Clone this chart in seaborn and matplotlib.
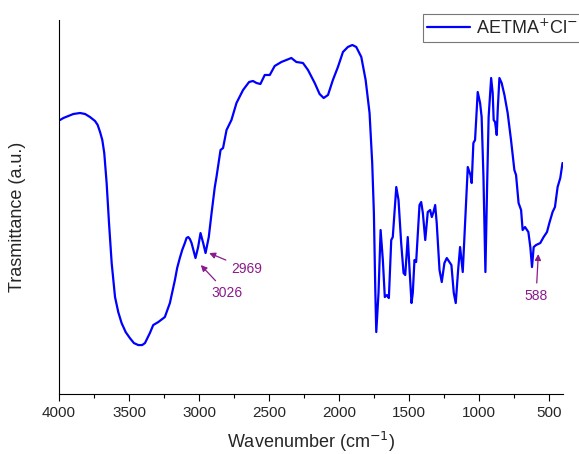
import numpy as np
import pandas as pd
import matplotlib
matplotlib.use("Agg")
import matplotlib.pyplot as plt
import seaborn as sns
from matplotlib.ticker import MultipleLocator

# FTIR spectrum of AETMA+Cl- (arbitrary units)
wavenumber = [3993, 3969, 3934, 3898, 3850, 3814, 3779, 3743, 3724, 3707,
              3691, 3677, 3660, 3643, 3624, 3600, 3577, 3553, 3524, 3494,
              3465, 3434, 3406, 3386, 3351, 3327, 3291, 3244, 3208, 3172,
              3156, 3137, 3120, 3101, 3089, 3077, 3065, 3053, 3025, 3006,
              2989, 2970, 2953, 2930, 2910, 2887, 2875, 2846, 2828, 2803,
              2768, 2732, 2685, 2642, 2614, 2589, 2561, 2530, 2494, 2459,
              2411, 2375, 2340, 2304, 2257, 2221, 2173, 2138, 2109, 2078,
              2043, 2007, 1971, 1936, 1904, 1876, 1840, 1809, 1781, 1762,
              1750, 1740, 1733, 1717, 1702, 1686, 1672, 1657, 1643, 1626,
              1615, 1590, 1574, 1555, 1538, 1526, 1508, 1495, 1481, 1472,
              1460, 1448, 1424, 1412, 1400, 1383, 1365, 1348, 1336, 1324,
              1312, 1301, 1281, 1265, 1246, 1229, 1210, 1196, 1179, 1165,
              1148, 1134, 1115, 1096, 1079, 1060, 1051, 1039, 1027, 1008,
              991, 980, 967, 953, 941, 930, 912, 901, 894, 884,
              872, 865, 853, 837, 817, 794, 770, 746, 734, 716,
              698, 687, 670, 646, 632, 620, 608, 591, 561, 537,
              513, 496, 473, 456, 437, 418, 402]
transmittance = [274, 276, 278, 280, 281, 280, 277, 273, 269, 262,
                 254, 241, 211, 171, 131, 97, 82, 71, 62, 56,
                 51, 49, 49, 51, 61, 69, 72, 77, 91, 114,
                 126, 136, 144, 151, 156, 157, 155, 151, 136, 147,
                 161, 151, 141, 157, 181, 207, 217, 244, 246, 264,
                 274, 291, 304, 312, 313, 311, 310, 319, 319, 328,
                 332, 334, 336, 332, 331, 324, 311, 300, 296, 299,
                 314, 327, 342, 347, 349, 347, 337, 314, 281, 231,
                 181, 104, 62, 101, 164, 134, 97, 99, 96, 154,
                 157, 207, 194, 151, 121, 119, 157, 124, 91, 101,
                 134, 132, 189, 192, 181, 154, 182, 184, 177, 182,
                 189, 171, 124, 112, 131, 136, 132, 129, 101, 91,
                 124, 147, 122, 177, 227, 219, 211, 251, 254, 302,
                 291, 277, 217, 122, 207, 277, 316, 301, 274, 272,
                 259, 284, 316, 311, 299, 281, 254, 224, 219, 191,
                 184, 164, 167, 162, 147, 127, 147, 149, 151, 157,
                 162, 171, 182, 187, 207, 216, 231]

# labelled bands: arrow tip and label position
peak_labels = ["3026", "2969", "588"]
peak_tip_x = [2987, 2927, 575]
peak_tip_y = [129, 141, 140]
label_x = [2799, 2656, 591]
label_y = [101, 125, 98]

df = pd.DataFrame({"wn": wavenumber, "T": transmittance})

sns.set_style("white")
plt.rcParams["font.family"] = ["Liberation Sans", "DejaVu Sans"]

fig = plt.figure(figsize=(5.79, 4.54), dpi=100)
ax = fig.add_axes([0.102, 0.132, 0.870, 0.824])

sns.lineplot(data=df, x="wn", y="T", ax=ax, color="#0000ff", linewidth=1.6,
             label="AETMA$^{+}$Cl$^{-}$", estimator=None)

purple = "#8b1a8b"
for lab, tx, ty, lx, ly in zip(peak_labels, peak_tip_x, peak_tip_y, label_x, label_y):
    ax.annotate(lab, xy=(tx, ty), xytext=(lx, ly), ha="center", va="center",
                color=purple, fontsize=10,
                arrowprops=dict(arrowstyle="-|>", color=purple, lw=0.9,
                                mutation_scale=9, shrinkA=2, shrinkB=0))

ax.set_xlim(4000, 400)
ax.set_ylim(0, 374)
ax.xaxis.set_major_locator(MultipleLocator(500))
ax.xaxis.set_minor_locator(MultipleLocator(250))
ax.tick_params(axis="x", which="major", direction="out", length=5, width=0.8,
               labelsize=11, bottom=True, color="black")
ax.tick_params(axis="x", which="minor", direction="out", length=3, width=0.8,
               bottom=True, color="black")
ax.set_yticks([])

for side in ["top", "right"]:
    ax.spines[side].set_visible(False)
for side in ["left", "bottom"]:
    ax.spines[side].set_color("black")
    ax.spines[side].set_linewidth(0.8)

ax.set_xlabel("Wavenumber (cm$^{-1}$)", fontsize=13, labelpad=7)
ax.set_ylabel("Trasmittance (a.u.)", fontsize=13)
ax.yaxis.set_label_coords(-0.065, 0.473)

leg = ax.legend(loc="upper right", bbox_to_anchor=(582 / 579, 1 - 14 / 454),
                bbox_transform=fig.transFigure, fontsize=13,
                frameon=True, fancybox=False, edgecolor="#555555",
                borderpad=0.25, borderaxespad=0, handlelength=2.4,
                handletextpad=0.3)
leg.get_frame().set_linewidth(0.8)

fig.savefig("out.png", dpi=100)
